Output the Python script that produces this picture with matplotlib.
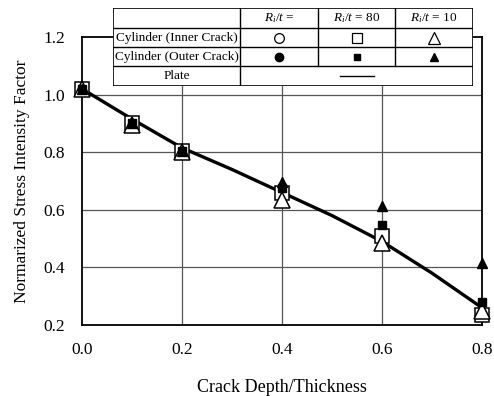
import matplotlib
matplotlib.use("Agg")
import matplotlib.pyplot as plt

# data
plate_x = [0.0, 0.1, 0.2, 0.3, 0.4, 0.5, 0.6, 0.7, 0.8]
plate_y = [1.02, 0.915, 0.815, 0.74, 0.66, 0.58, 0.49, 0.38, 0.26]

crack_x = [0.0, 0.1, 0.2, 0.4, 0.6, 0.8]
inner_80 = [1.02, 0.90, 0.805, 0.66, 0.51, 0.235]
inner_10 = [1.02, 0.895, 0.80, 0.633, 0.484, 0.25]
outer_80 = [1.02, 0.90, 0.805, 0.674, 0.546, 0.28]
outer_10 = [1.02, 0.90, 0.805, 0.695, 0.612, 0.415]

xticks = [0.0, 0.2, 0.4, 0.6, 0.8]
yticks = [0.2, 0.4, 0.6, 0.8, 1.0, 1.2]

col_heads = ["", "$R_i/t$ =", "$R_i/t$ = 80", "$R_i/t$ = 10"]
row_heads = ["Cylinder (Inner Crack)", "Cylinder (Outer Crack)", "Plate"]

plt.rcParams["font.family"] = "Liberation Serif"
plt.rcParams["mathtext.fontset"] = "custom"
plt.rcParams["mathtext.rm"] = "Liberation Serif"
plt.rcParams["mathtext.it"] = "Liberation Serif:italic"

fig = plt.figure(figsize=(4.94, 3.96), dpi=100)
ax = fig.add_axes([82 / 494, 1 - 325 / 396, 400 / 494, 288 / 396])

ax.set_xlim(0.0, 0.8)
ax.set_ylim(0.2, 1.2)
ax.set_xticks(xticks)
ax.set_yticks(yticks)
ax.set_xticklabels(["%.1f" % v for v in xticks], fontsize=12.5)
ax.set_yticklabels(["%.1f" % v for v in yticks], fontsize=12.5)
ax.tick_params(length=0, pad=12)
for s in ax.spines.values():
    s.set_linewidth(1.3)

for gx in [0.2, 0.4, 0.6]:
    ax.axvline(gx, color="#555555", lw=0.9, zorder=1)
for gy in [0.4, 0.6, 0.8, 1.0]:
    ax.axhline(gy, color="#555555", lw=0.9, zorder=1)

ax.plot(plate_x, plate_y, color="black", lw=2.4, zorder=2)

kw = dict(ls="none", clip_on=False, markeredgecolor="black")
ax.plot(crack_x, inner_80, "s", ms=10, mfc="white", mew=1.1, zorder=3, **kw)
ax.plot(crack_x, inner_10, "^", ms=11, mfc="white", mew=1.1, zorder=4, **kw)
ax.plot(crack_x, outer_80, "s", ms=6, mfc="black", zorder=5, **kw)
ax.plot(crack_x, outer_10, "^", ms=7, mfc="black", zorder=6, **kw)

ax.set_xlabel("Crack Depth/Thickness", fontsize=13, labelpad=15)
ax.set_ylabel("Normarized Stress Intensity Factor", fontsize=12.5, labelpad=10)

# legend table drawn on its own axes, in pixel units
tab = fig.add_axes([113 / 494, 1 - 86 / 396, 360 / 494, 78 / 396])
tab.set_xlim(0, 360)
tab.set_ylim(78, 0)
tab.axis("off")
tab.add_patch(plt.Rectangle((0, 0), 360, 78, facecolor="white", edgecolor="black", lw=1.2))
col_edges = [0, 127, 205, 282, 360]
row_edges = [0, 20, 39.5, 58.5, 78]
for r in row_edges[1:-1]:
    tab.plot([0, 360], [r, r], color="black", lw=1.0)
for i, c in enumerate(col_edges[1:-1]):
    top = row_edges[-1] if i == 0 else row_edges[-2]
    tab.plot([c, c], [0, top], color="black", lw=1.0)

cx = [(col_edges[i] + col_edges[i + 1]) / 2 for i in range(4)]
cy = [(row_edges[i] + row_edges[i + 1]) / 2 for i in range(4)]
for i, h in enumerate(col_heads[1:]):
    tab.text(cx[i + 1], cy[0], h, ha="center", va="center", fontsize=9.5)
for j, h in enumerate(row_heads):
    tab.text(cx[0], cy[j + 1], h, ha="center", va="center", fontsize=9.5)

tab.plot(cx[1], cy[1], "o", ms=7, mfc="white", mec="black", mew=0.9)
tab.plot(cx[2], cy[1], "s", ms=6.5, mfc="white", mec="black", mew=0.9)
tab.plot(cx[3], cy[1], "^", ms=8, mfc="white", mec="black", mew=0.9)
tab.plot(cx[1], cy[2], "o", ms=6, color="black")
tab.plot(cx[2], cy[2], "s", ms=5, color="black")
tab.plot(cx[3], cy[2], "^", ms=5.5, color="black")
mid = (col_edges[1] + col_edges[4]) / 2
tab.plot([mid - 17, mid + 17], [cy[3], cy[3]], color="black", lw=1.0)

fig.savefig("out.png", dpi=100)
